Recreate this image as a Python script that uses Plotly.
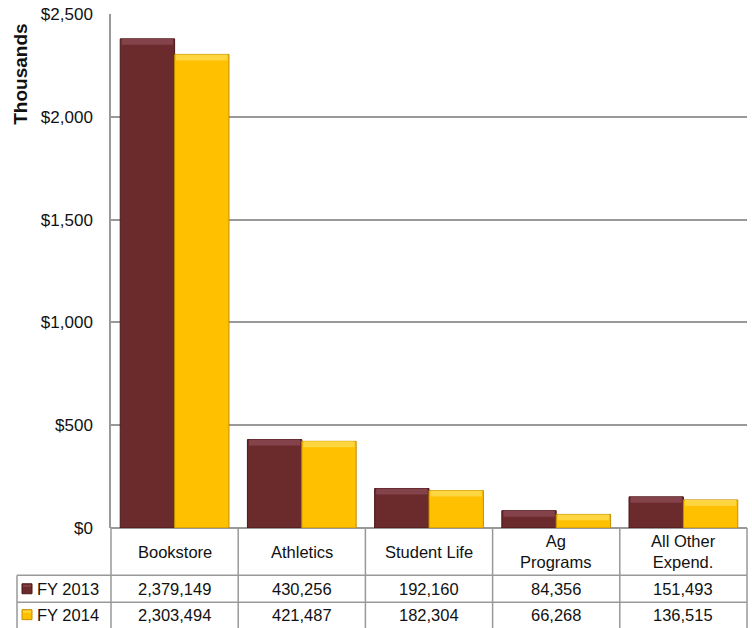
import plotly.graph_objects as go

# Expenditures by area, in thousands of dollars
categories = ["Bookstore", "Athletics", "Student Life", "Ag Programs", "All Other Expend."]
header_labels = ["Bookstore", "Athletics", "Student Life", "Ag<br>Programs", "All Other<br>Expend."]
fy2013 = [2379149, 430256, 192160, 84356, 151493]
fy2014 = [2303494, 421487, 182304, 66268, 136515]
series_names = ["FY 2013", "FY 2014"]

FONT = "Liberation Sans, Arial, sans-serif"
MAROON, MAROON_TOP, MAROON_EDGE = "#6B2A2C", "#84434A", "#4A1719"
GOLD, GOLD_TOP, GOLD_EDGE = "#FFC000", "#FFD640", "#C08F00"
GRID = "#999999"

W, H = 752, 628
M_L, M_R, M_T, M_B = 111, 5, 12, 100
plot_w = W - M_L - M_R
plot_h = H - M_T - M_B


def px_x(px):
    return (px - M_L) / plot_w


def px_y(py):
    return (H - M_B - py) / plot_h


bar_w = 0.4275
bevel = 6 * 2500 / plot_h  # top highlight strip height in axis units

fig = go.Figure()
series = [
    (series_names[0], fy2013, -bar_w, MAROON, MAROON_TOP, MAROON_EDGE),
    (series_names[1], fy2014, 0.0, GOLD, GOLD_TOP, GOLD_EDGE),
]
for name, vals, off, col, top, edge in series:
    thousands = [v / 1000 for v in vals]
    fig.add_trace(go.Bar(
        x=categories, y=thousands, name=name, offset=off, width=bar_w,
        marker=dict(color=col, line=dict(color=edge, width=1)),
        showlegend=False,
    ))
    # bevelled top edge
    fig.add_trace(go.Bar(
        x=categories, y=[bevel] * len(vals), base=[t - bevel for t in thousands],
        offset=off + 0.012, width=bar_w - 0.024,
        marker=dict(color=top, line=dict(width=0)),
        showlegend=False, hoverinfo="skip",
    ))

shapes = []
line = dict(color=GRID, width=1.5)
n = len(categories)
# table grid under the plot
y_hdr_bot = px_y(575.5)
y_row1_bot = px_y(602.5)
y_bottom = px_y(640)
for k in range(n + 1):
    shapes.append(dict(type="line", xref="paper", yref="paper",
                       x0=k / n, x1=k / n, y0=0, y1=y_bottom, line=line))
shapes.append(dict(type="line", xref="paper", yref="paper",
                   x0=px_x(17), x1=1, y0=y_hdr_bot, y1=y_hdr_bot, line=line))
shapes.append(dict(type="line", xref="paper", yref="paper",
                   x0=px_x(17), x1=1, y0=y_row1_bot, y1=y_row1_bot, line=line))
shapes.append(dict(type="line", xref="paper", yref="paper",
                   x0=px_x(17), x1=px_x(17), y0=y_hdr_bot, y1=y_bottom, line=line))

annotations = []
tfont = dict(family=FONT, size=16.5, color="#111111")
y_hdr = px_y(552)
row_y = [px_y(589), px_y(615)]
for cat, lab in zip(categories, header_labels):
    annotations.append(dict(x=cat, xref="x", y=y_hdr, yref="paper", text=lab,
                            showarrow=False, font=tfont, yanchor="middle", align="center"))
for ry, vals in zip(row_y, [fy2013, fy2014]):
    for cat, v in zip(categories, vals):
        annotations.append(dict(x=cat, xref="x", y=ry, yref="paper", text=f"{v:,}",
                                showarrow=False, font=tfont, yanchor="middle"))

# legend keys in the table's first column
for ry, name, col, top, edge in zip(row_y, series_names,
                                    [MAROON, GOLD], [MAROON_TOP, GOLD_TOP],
                                    [MAROON_EDGE, GOLD_EDGE]):
    cy = H - M_B - ry * plot_h
    shapes.append(dict(type="rect", xref="paper", yref="paper",
                       x0=px_x(22), x1=px_x(32), y0=px_y(cy + 5), y1=px_y(cy - 5),
                       fillcolor=col, line=dict(color=edge, width=1)))
    shapes.append(dict(type="rect", xref="paper", yref="paper",
                       x0=px_x(23), x1=px_x(31), y0=px_y(cy - 2), y1=px_y(cy - 4),
                       fillcolor=top, line=dict(width=0)))
    annotations.append(dict(x=px_x(35), xref="paper", y=ry, yref="paper", text=name,
                            showarrow=False, font=tfont, xanchor="left", yanchor="middle"))

annotations.append(dict(x=px_x(21), xref="paper", y=px_y(73), yref="paper",
                        text="<b>Thousands</b>", textangle=-90, showarrow=False,
                        font=dict(family=FONT, size=19, color="#111111"),
                        xanchor="center", yanchor="middle"))

fig.update_layout(
    width=W, height=H,
    margin=dict(l=M_L, r=M_R, t=M_T, b=M_B),
    paper_bgcolor="white", plot_bgcolor="white",
    barmode="overlay",
    shapes=shapes, annotations=annotations,
    font=dict(family=FONT, size=16.5, color="#111111"),
    xaxis=dict(showticklabels=False, showgrid=False, zeroline=False,
               showline=False, range=[-0.5, n - 0.5], fixedrange=True),
    yaxis=dict(range=[0, 2500], dtick=500, tickprefix="$", tickformat=",",
               showgrid=True, gridcolor=GRID, gridwidth=1.5,
               zeroline=True, zerolinecolor=GRID, zerolinewidth=1.5,
               showline=True, linecolor=GRID, linewidth=1.5,
               ticks="", ticklabelstandoff=13,
               tickfont=dict(family=FONT, size=17, color="#111111"),
               fixedrange=True),
)

fig.write_html("out.html")
